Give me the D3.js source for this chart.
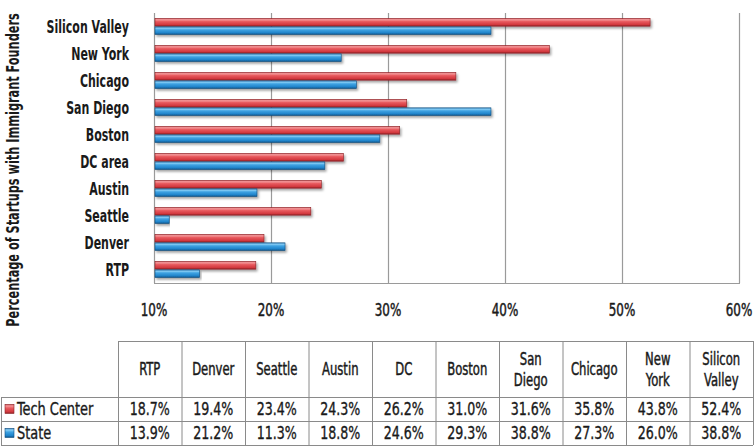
<!DOCTYPE html>
<html><head><meta charset="utf-8">
<script src="https://cdn.jsdelivr.net/npm/d3@7"></script>
<style>
html,body{margin:0;padding:0;background:#fff;}
svg{display:block;}
text{font-family:"DejaVu Sans Condensed","DejaVu Sans",sans-serif;font-stretch:condensed;fill:#1a1a1a;}
</style></head>
<body>
<svg id="chart" width="754" height="447"></svg>
<script>
// ---- data ----
const categories = ["RTP","Denver","Seattle","Austin","DC area","Boston","San Diego","Chicago","New York","Silicon Valley"];
const tableHeaders = ["RTP","Denver","Seattle","Austin","DC","Boston","San\nDiego","Chicago","New\nYork","Silicon\nValley"];
const techCenter = [18.7,19.4,23.4,24.3,26.2,31.0,31.6,35.8,43.8,52.4];
const stateVals  = [13.9,21.2,11.3,18.8,24.6,29.3,38.8,27.3,26.0,38.8];
const seriesNames = ["Tech Center","State"];
const xTicks = [10,20,30,40,50,60];
const yTitle = "Percentage of Startups with Immigrant Founders";

const svg = d3.select("#chart");
const defs = svg.append("defs");

function grad(id, stops){
  const g = defs.append("linearGradient").attr("id",id).attr("x1",0).attr("y1",0).attr("x2",0).attr("y2",1);
  stops.forEach(s=>g.append("stop").attr("offset",s[0]).attr("stop-color",s[1]));
}
grad("gRed",[[0,"#c23a40"],[0.15,"#f59a9c"],[0.4,"#e85a5f"],[0.8,"#d2383e"],[1,"#8e2327"]]);
grad("gBlue",[[0,"#1f6fae"],[0.15,"#8fd2f6"],[0.4,"#3ea2e2"],[0.8,"#1e82c9"],[1,"#124f80"]]);
const f = defs.append("filter").attr("id","shadow").attr("x","-5%").attr("y","-50%").attr("width","110%").attr("height","250%");
f.append("feDropShadow").attr("dx",1.5).attr("dy",2).attr("stdDeviation",1.2).attr("flood-color","#000").attr("flood-opacity",0.35);

const colors = {"Tech Center":"url(#gRed)","State":"url(#gBlue)"};
const edge = {"Tech Center":"#8e2327","State":"#124f80"};

// condensed text helper
function cText(parent, x, y, str, o){
  const g = parent.append("g").attr("transform",`translate(${x},${y})${o.rot?` rotate(${o.rot})`:""} scale(${o.sx||0.75},1)`);
  const t = g.append("text").attr("x",0).attr("y",0).attr("dy",o.dy||"0.36em")
    .attr("text-anchor",o.anchor||"middle").attr("font-size",o.size||16)
    .attr("font-weight",o.weight||"normal").text(str);
  if(o.stroke) t.attr("stroke","#1a1a1a").attr("stroke-width",o.stroke);
  return t;
}

// ---- scales ----
const x = d3.scaleLinear().domain([10,60]).range([154,739]);
const y = d3.scaleBand().domain(categories.slice().reverse()).range([13,283]).paddingInner(0);
const bh = 16;
const y1 = d3.scaleBand().domain(seriesNames).range([(y.bandwidth()-bh)/2,(y.bandwidth()+bh)/2]).paddingInner(0.08);

// grid
svg.append("g").selectAll("line").data(xTicks.slice(1)).join("line")
  .attr("x1",d=>x(d)+0.5).attr("x2",d=>x(d)+0.5).attr("y1",13).attr("y2",283)
  .attr("stroke","#9a9a9a").attr("stroke-width",1.2);
svg.append("line").attr("x1",x(10)+0.5).attr("x2",x(10)+0.5).attr("y1",13).attr("y2",283).attr("stroke","#9a9a9a").attr("stroke-width",1.2);
svg.append("line").attr("x1",x(10)).attr("x2",x(60)+1).attr("y1",283.5).attr("y2",283.5).attr("stroke","#9a9a9a").attr("stroke-width",1.2);

// bars
const rows = categories.map((c,i)=>({cat:c, vals:[{s:"Tech Center",v:techCenter[i]},{s:"State",v:stateVals[i]}]}));
const rg = svg.append("g").selectAll("g").data(rows).join("g")
  .attr("transform",d=>`translate(0,${y(d.cat)})`);
rg.selectAll("rect").data(d=>d.vals).join("rect")
  .attr("x",x(10)+1).attr("y",d=>y1(d.s))
  .attr("width",d=>x(d.v)-x(10)-1).attr("height",y1.bandwidth())
  .attr("fill",d=>colors[d.s]).attr("stroke",d=>edge[d.s]).attr("stroke-width",0.6)
  .attr("filter","url(#shadow)");

// category labels
const catG = svg.append("g");
categories.forEach(c=>cText(catG,129,y(c)+y.bandwidth()/2,c,{anchor:"end",size:17,weight:"bold",sx:0.72}));

// x tick labels
const tickG = svg.append("g");
xTicks.forEach(d=>cText(tickG,x(d),310,d+"%",{size:17,sx:0.78,stroke:0.45}));

// y title
cText(svg,13,170,yTitle,{rot:-90,size:17,weight:"bold",sx:0.74});

// ---- table ----
const tX0 = 118, tX1 = 753;
const col = d3.scaleBand().domain(tableHeaders).range([tX0,tX1]);
const hTop = 341, hBot = 397, r1 = 421, r2 = 445;
const tg = svg.append("g");
const lineC = "#8a8a8a";
tg.append("line").attr("x1",tX0).attr("x2",tX1).attr("y1",hTop+0.5).attr("y2",hTop+0.5).attr("stroke",lineC);
[hBot,r1,r2].forEach(yy=>tg.append("line").attr("x1",1).attr("x2",tX1).attr("y1",yy+0.5).attr("y2",yy+0.5).attr("stroke",lineC));
tableHeaders.forEach(h=>{
  tg.append("line").attr("x1",col(h)+0.5).attr("x2",col(h)+0.5).attr("y1",hTop).attr("y2",r2).attr("stroke",lineC);
});
tg.append("line").attr("x1",tX1+0.5).attr("x2",tX1+0.5).attr("y1",hTop).attr("y2",r2).attr("stroke",lineC);
tg.append("line").attr("x1",1.5).attr("x2",1.5).attr("y1",hBot).attr("y2",r2).attr("stroke",lineC);

tableHeaders.forEach(h=>{
  const lines = h.split("\n");
  const cx = col(h)+col.bandwidth()/2;
  const cy = (hTop+hBot)/2;
  const opt = {size:17,sx:0.76,stroke:0.45};
  if(lines.length===1){
    cText(tg,cx,cy,lines[0],opt);
  } else {
    cText(tg,cx,cy-10.5,lines[0],opt);
    cText(tg,cx,cy+10.5,lines[1],opt);
  }
});
const seriesData = [techCenter, stateVals];
const rowY = [(hBot+r1)/2,(r1+r2)/2];
seriesData.forEach((arr,ri)=>{
  arr.forEach((v,ci)=>{
    cText(tg,col(tableHeaders[ci])+col.bandwidth()/2,rowY[ri],v.toFixed(1)+"%",{size:18,sx:0.78,stroke:0.35});
  });
  tg.append("rect").attr("x",5).attr("y",rowY[ri]-4.5).attr("width",9).attr("height",9)
    .attr("fill",ri===0?"url(#gRed)":"url(#gBlue)").attr("stroke",ri===0?"#8e2327":"#124f80").attr("stroke-width",0.6);
  cText(tg,17,rowY[ri],seriesNames[ri],{anchor:"start",size:18,sx:0.8,stroke:0.35});
});
</script>
</body></html>
